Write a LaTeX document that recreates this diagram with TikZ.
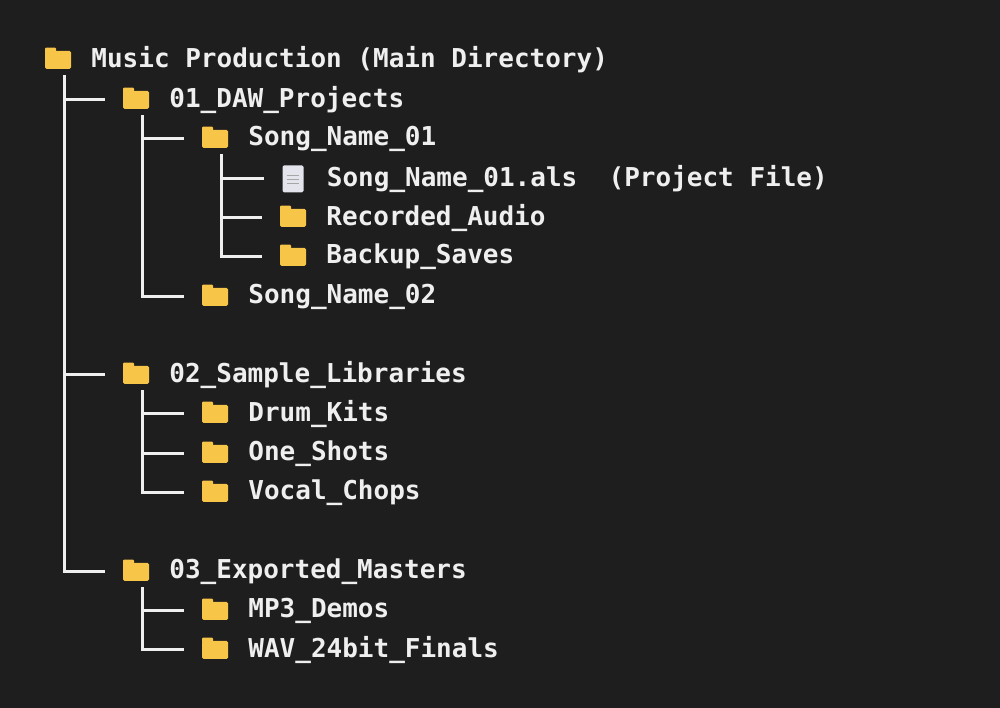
\documentclass[tikz,border=0pt]{standalone}
\usepackage{fontspec}
\setmonofont{DejaVu Sans Mono}
\usetikzlibrary{positioning}
\definecolor{bgcol}{HTML}{1E1E1E}
\definecolor{foldercol}{HTML}{F7C548}
\definecolor{txtcol}{HTML}{EFEFEF}
\definecolor{pagecol}{HTML}{E4E4EC}
\tikzset{
    folder/.style={fill=foldercol, rounded corners=1.5pt, minimum width=26pt, minimum height=18pt, inner sep=0pt,
      label={[fill=foldercol, rounded corners=1pt, minimum width=11pt, minimum height=5pt, inner sep=0pt, anchor=south west, yshift=-2pt]north west:{}}},
    sheet/.style={fill=pagecol, rounded corners=1.5pt, minimum width=21pt, minimum height=27pt, inner sep=0pt,
      path picture={\foreach \k in {1,2,3}
        \draw [gray!70, line width=1.2pt] ([xshift=4pt, yshift=-6pt-4*\k pt]path picture bounding box.north west) -- ++(12pt,0);}},
    item/.style={right=20pt, text=txtcol, inner sep=0pt, font=\ttfamily\bfseries\fontsize{26}{30}\selectfont},
    tree/.style={draw=txtcol, line width=3pt}
}
\begin{document}
\begin{tikzpicture}[x=1pt, y=1pt]
  \fill [bgcol] (0,0) rectangle (1000,708);
  % root
  \node [folder] (root) at (58,648) {};
  \node [item] at (root.east) {Music Production (Main Directory)};
  % level 1
  \node [folder] (daw) at (136,608) {};
  \node [item] at (daw.east) {01\_DAW\_Projects};
  \node [folder] (samples) at (136,333) {};
  \node [item] at (samples.east) {02\_Sample\_Libraries};
  \node [folder] (masters) at (136,136) {};
  \node [item] at (masters.east) {03\_Exported\_Masters};
  % level 2
  \node [folder] (song1) at (215,569) {};
  \node [item] at (song1.east) {Song\_Name\_01};
  \node [folder] (song2) at (215,411) {};
  \node [item] at (song2.east) {Song\_Name\_02};
  \node [folder] (drums) at (215,294) {};
  \node [item] at (drums.east) {Drum\_Kits};
  \node [folder] (shots) at (215,254) {};
  \node [item] at (shots.east) {One\_Shots};
  \node [folder] (vocal) at (215,215) {};
  \node [item] at (vocal.east) {Vocal\_Chops};
  \node [folder] (mp3) at (215,97) {};
  \node [item] at (mp3.east) {MP3\_Demos};
  \node [folder] (wav) at (215,58) {};
  \node [item] at (wav.east) {WAV\_24bit\_Finals};
  % level 3
  \node [sheet] (als) at (293,529) {};
  \node [item, right=23pt] at (als.east) {Song\_Name\_01.als\ \ (Project File)};
  \node [folder] (audio) at (293,490) {};
  \node [item] at (audio.east) {Recorded\_Audio};
  \node [folder] (backup) at (293,451) {};
  \node [item] at (backup.east) {Backup\_Saves};
  % connectors
  \foreach \p/\c in {root/daw, root/samples, root/masters,
                     daw/song1, daw/song2, song1/als, song1/audio, song1/backup,
                     samples/drums, samples/shots, samples/vocal,
                     masters/mp3, masters/wav}
    \draw [tree] ([xshift=6pt, yshift=-6pt]\p.south) |- ([xshift=-18pt]\c.west |- \c.center);
\end{tikzpicture}
\end{document}
